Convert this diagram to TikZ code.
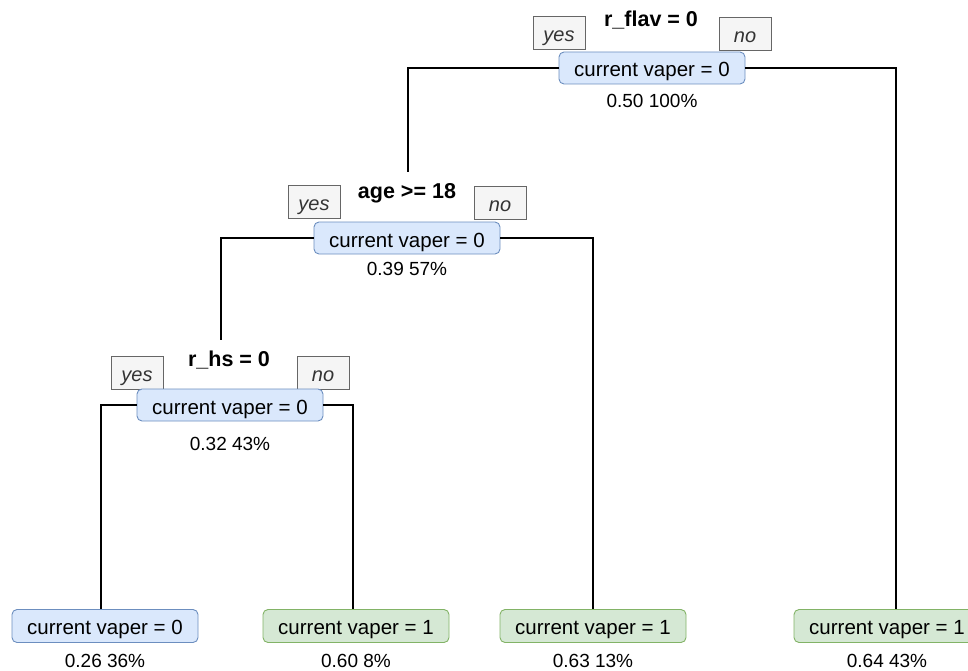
\documentclass[tikz,border=0pt]{standalone}
\usepackage{fontspec}
\setmainfont{Liberation Sans}
\begin{document}
\begin{tikzpicture}[x=1pt,y=-1pt,
  every node/.style={font=\fontsize{20.5}{24}\selectfont},
  split/.style={draw=splitdraw, fill=splitfill, rounded corners=5pt, line width=0.9pt,
    minimum width=186pt, inner sep=0pt, text height=25pt, text depth=7pt},
  leafno/.style={split, text depth=8pt},
  leafyes/.style={leafno, draw=leafdraw, fill=leaffill},
  tag/.style={draw=tagdraw, fill=tagfill, line width=0.8pt, minimum width=52pt,
    inner sep=0pt, text height=25pt, text depth=8pt, text=tagtext,
    font=\fontsize{20}{24}\selectfont\itshape},
  rule/.style={anchor=base, font=\fontsize{21.5}{26}\selectfont\bfseries},
  stat/.style={anchor=base, font=\fontsize{19}{23}\selectfont},
  link/.style={line width=1.3pt, black}]
\definecolor{splitfill}{HTML}{DAE8FC}
\definecolor{splitdraw}{HTML}{6C8EBF}
\definecolor{leaffill}{HTML}{D5E8D4}
\definecolor{leafdraw}{HTML}{82B366}
\definecolor{tagfill}{HTML}{F5F5F5}
\definecolor{tagdraw}{HTML}{666666}
\definecolor{tagtext}{HTML}{333333}
\useasboundingbox (0,0) rectangle (968,671);

% root split
\node[tag] (rootyes) at (559,33) {yes};
\node[tag] (rootno) at (745,34) {no};
\node[rule] (rootrule) at (651,27) {r\_flav = 0};
\node[split] (root) at (652,68) {current vaper = 0};
\node[stat] (rootstat) at (652,108) {0.50 100\%};

% age split
\node[tag] (ageyes) at (314,202) {yes};
\node[tag] (ageno) at (500,203) {no};
\node[rule] (agerule) at (407,198) {age >= 18};
\node[split] (age) at (407,238) {current vaper = 0};
\node[stat] (agestat) at (407,275) {0.39 57\%};

% r_hs split
\node[tag] (hsyes) at (137,373) {yes};
\node[tag] (hsno) at (323,373) {no};
\node[rule] (hsrule) at (229,366) {r\_hs = 0};
\node[split] (hs) at (230,405) {current vaper = 0};
\node[stat] (hsstat) at (230,450) {0.32 43\%};

% leaves
\node[leafno] (leafa) at (105,626) {current vaper = 0};
\node[stat] (leafastat) at (105,667) {0.26 36\%};
\node[leafyes] (leafb) at (356,626) {current vaper = 1};
\node[stat] (leafbstat) at (356,667) {0.60 8\%};
\node[leafyes] (leafc) at (593,626) {current vaper = 1};
\node[stat] (leafcstat) at (593,667) {0.63 13\%};
\node[leafyes] (leafd) at (887,626) {current vaper = 1};
\node[stat] (leafdstat) at (887,667) {0.64 43\%};

% branch ends above the child splits
\coordinate (agetop) at (408,172);
\coordinate (hstop) at (221,340);

% connectors
\draw[link] (root.west) -| (agetop);
\draw[link] (root.east) -| ([xshift=9pt]leafd.north);
\draw[link] (age.west) -| (hstop);
\draw[link] (age.east) -| (leafc.north);
\draw[link] (hs.west) -| ([xshift=-4pt]leafa.north);
\draw[link] (hs.east) -| ([xshift=-3pt]leafb.north);
\end{tikzpicture}
\end{document}
